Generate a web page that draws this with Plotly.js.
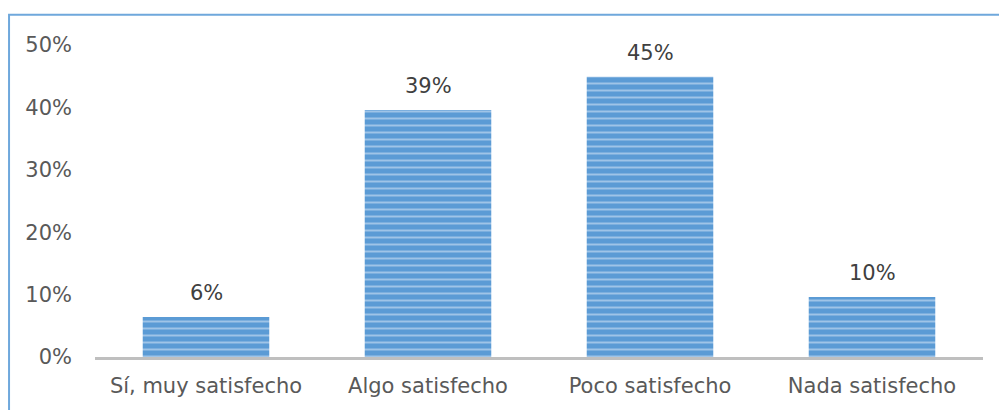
<!DOCTYPE html>
<html><head><meta charset="utf-8">
<script src="https://cdn.plot.ly/plotly-3.0.1.min.js"></script>
<style>body{margin:0;padding:0;background:#fff}#chart{width:999px;height:410px}</style>
</head><body><div id="chart"></div>
<script>
const categories = ["Sí, muy satisfecho", "Algo satisfecho", "Poco satisfecho", "Nada satisfecho"];
const values = [6.4, 39.6, 44.9, 9.6];
const valueLabels = ["6%", "39%", "45%", "10%"];
const yTickVals = [0, 10, 20, 30, 40, 50];
const yTickText = ["0%", "10%", "20%", "30%", "40%", "50%"];

const fontFam = "DejaVu Sans, sans-serif";
const trace = {
  type: "bar",
  x: categories,
  y: values,
  marker: {
    color: "#5b9bd5",
    line: {width: 0},
    pattern: {shape: "-", fgcolor: "#e4eef9", bgcolor: "#5b9bd5", fillmode: "overlay", size: 7, solidity: 0.28}
  },
  hoverinfo: "none"
};
const annotations = categories.map((c, i) => ({
  x: c, y: values[i], xref: "x", yref: "y",
  text: valueLabels[i], showarrow: false,
  yanchor: "bottom", yshift: 10,
  font: {family: fontFam, size: 21, color: "#404040"}
}));
const layout = {
  width: 999, height: 410,
  margin: {l: 95, r: 16, t: 45, b: 53},
  paper_bgcolor: "#fff", plot_bgcolor: "#fff",
  bargap: 0.43,
  showlegend: false,
  font: {family: fontFam, color: "#595959", size: 21},
  xaxis: {
    showline: true, linecolor: "#bfbfbf", linewidth: 3,
    showgrid: false, zeroline: false, ticks: "",
    ticklabelstandoff: 8,
    tickfont: {family: fontFam, size: 21, color: "#595959"}
  },
  yaxis: {
    range: [0, 50], tickvals: yTickVals, ticktext: yTickText,
    showgrid: false, zeroline: false, showline: false, ticks: "",
    ticklabelstandoff: 22,
    tickfont: {family: fontFam, size: 21, color: "#595959"}
  },
  annotations: annotations,
  shapes: [{
    type: "path", xref: "paper", yref: "paper",
    path: "M -0.0968,-0.25 L -0.0968,1.097 L 1.03,1.097",
    line: {color: "#6fa8dc", width: 2}
  }]
};
Plotly.newPlot("chart", [trace], layout, {displayModeBar: false, staticPlot: true});
</script></body></html>
